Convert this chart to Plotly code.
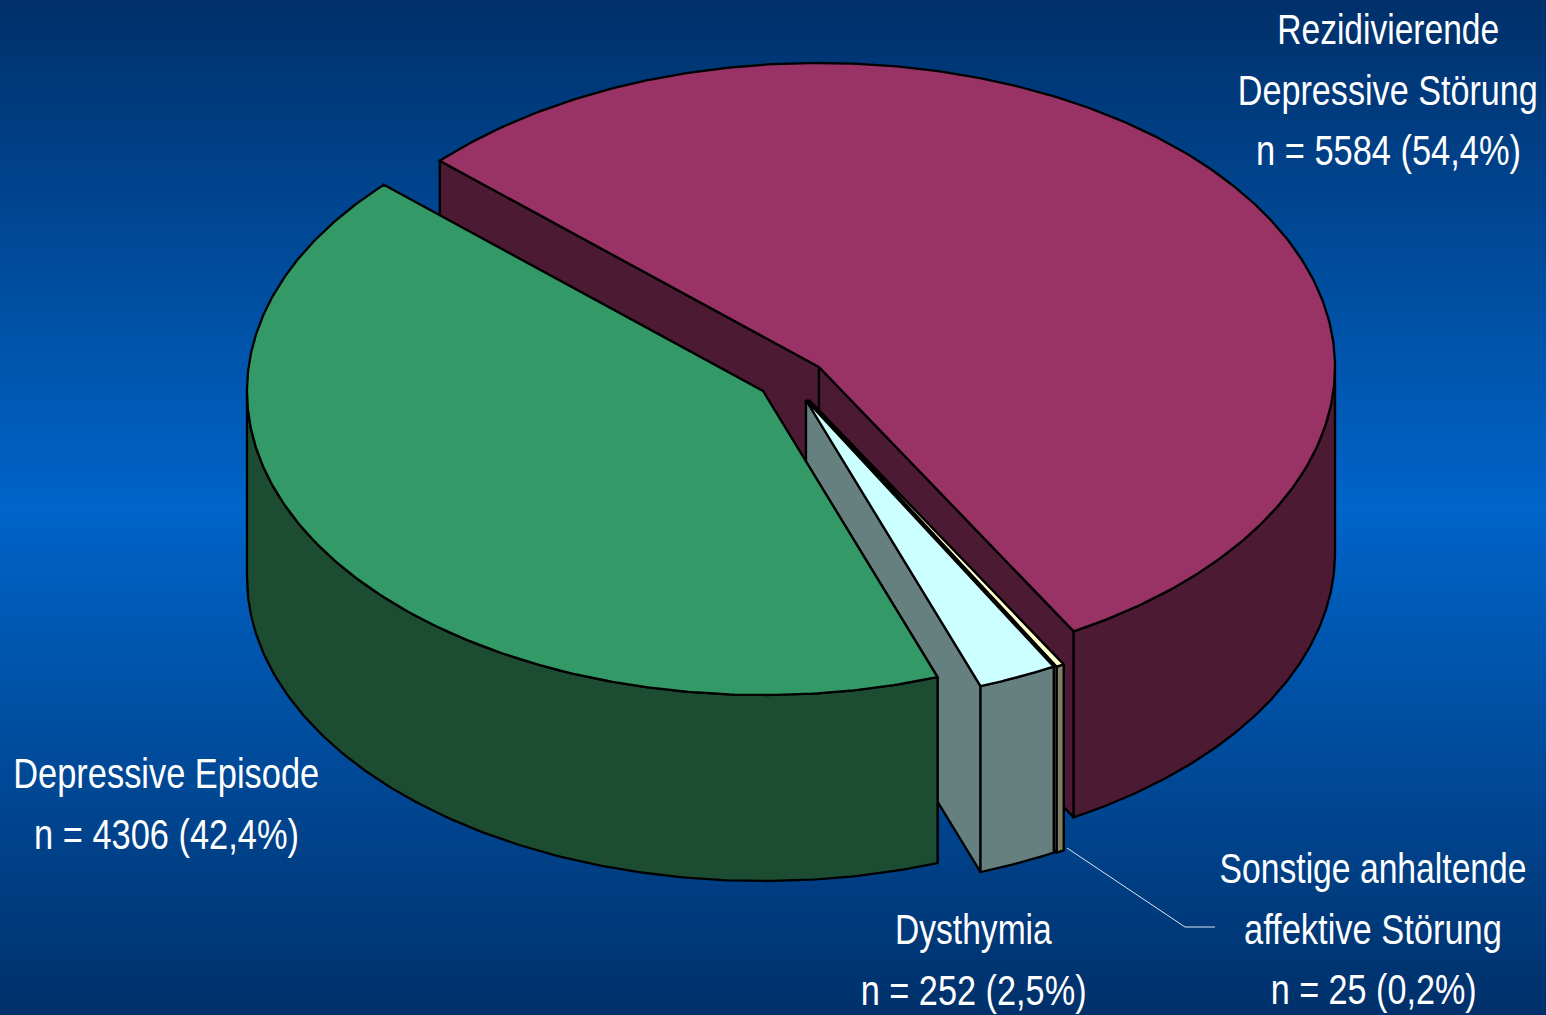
import json
import numpy as np
import plotly.graph_objects as go

# --- data ---
categories = ["Rezidivierende Depressive Störung", "Sonstige anhaltende affektive Störung", "Dysthymia", "Depressive Episode"]
counts = [5584, 25, 252, 4306]
top_colors = ["#993366", "#FFFFCC", "#CCFFFF", "#339966"]
side_colors = ["#4D1A33", "#808066", "#668080", "#1C4D33"]
label_lines = [
    ["Rezidivierende", "Depressive Störung", "n = 5584 (54,4%)"],
    ["Sonstige anhaltende", "affektive Störung", "n = 25 (0,2%)"],
    ["Dysthymia", "n = 252 (2,5%)"],
    ["Depressive Episode", "n = 4306 (42,4%)"],
]
# drawn widths of the condensed label lines, in pixels
label_widths = [
    [222, 300, 265],
    [307, 258, 206],
    [157, 226],
    [306, 265],
]

# --- layout of the projected pie ---
W, H = 1546, 1015
RX, RY, DEPTH = 516, 304, 186
START = 312.7
centers = [(819, 367), (809, 400), (806, 400), (763, 391)]
label_pos = [(1388, 29), (1373, 868), (973, 929), (166, 773)]
LINE_STEP = 60.7
bg_col = ["#00306A", "#0064C8"]
leader_x = [1067, 1185, 1215]
leader_y = [848, 927, 927]

fig = go.Figure()

# background gradient
ys = np.linspace(0, H, 204)
fig.add_trace(go.Heatmap(x=[0, W], y=ys, z=[[abs(v / H - 0.5) * 2] * 2 for v in ys],
                         colorscale=[[0, bg_col[1]], [1, bg_col[0]]], showscale=False,
                         hoverinfo="skip", zsmooth="best"))

def poly(xs, ys, fill):
    fig.add_trace(go.Scatter(x=list(xs) + [xs[0]], y=list(ys) + [ys[0]], mode="lines", fill="toself",
                             fillcolor=fill, line=dict(color="black", width=2.3), hoverinfo="skip"))

def pt(c, deg):
    a = np.radians(deg)
    return c[0] + RX * np.sin(a), c[1] - RY * np.cos(a)

total = sum(counts)
angle = START
for n, c, tc, sc in zip(counts, centers, top_colors, side_colors):
    sweep = 360 * n / total
    a0, a1 = angle, angle + sweep
    angle = a1
    # cut faces
    for a in (a0, a1):
        ex, ey = pt(c, a)
        poly([c[0], ex, ex, c[0]], [c[1], ey, ey + DEPTH, c[1] + DEPTH], sc)
    # outer wall, the part that faces the viewer
    for shift in (0, -360):
        lo, hi = max(a0 + shift, 90), min(a1 + shift, 270)
        if hi > lo:
            t = np.linspace(lo, hi, 160)
            ax, ay = pt(c, t)
            poly(np.r_[ax, ax[::-1]], np.r_[ay, ay[::-1] + DEPTH], sc)
    # top
    t = np.linspace(a0, a1, 300)
    ax, ay = pt(c, t)
    poly(np.r_[c[0], ax], np.r_[c[1], ay], tc)

fig.add_trace(go.Scatter(x=leader_x, y=leader_y, mode="lines", line=dict(color="#DDE6F2", width=1), hoverinfo="skip"))

width_by_text = {}
for lines, widths, (x, y) in zip(label_lines, label_widths, label_pos):
    for i, (s, w) in enumerate(zip(lines, widths)):
        width_by_text[s] = w
        fig.add_annotation(x=x, y=y + i * LINE_STEP, text=s, showarrow=False, xanchor="center", yanchor="middle",
                           font=dict(family="Liberation Sans", size=43, color="white"))

fig.update_layout(width=W, height=H, margin=dict(l=0, r=0, t=0, b=0), showlegend=False,
                  paper_bgcolor=bg_col[0], plot_bgcolor=bg_col[0],
                  xaxis=dict(range=[0, W], visible=False, fixedrange=True),
                  yaxis=dict(range=[H, 0], visible=False, fixedrange=True))

# Squeeze the labels to the condensed look of the reference; they stay real text.
squeeze = """
document.body.style.margin='0';
document.documentElement.style.overflow='hidden';
var widths = %s;
function squeezeLabels() {
  document.querySelectorAll('text.annotation-text').forEach(function (el) {
    var w = widths[el.textContent];
    if (!w || el.dataset.squeezed) return;
    var bb = el.getBBox();
    if (!bb.width) return;
    var cx = bb.x + bb.width / 2, s = w / bb.width;
    var old = el.getAttribute('transform') || '';
    el.setAttribute('transform', old + ' translate(' + cx + ',0) scale(' + s + ',1) translate(' + (-cx) + ',0)');
    el.dataset.squeezed = '1';
  });
}
squeezeLabels();
setTimeout(squeezeLabels, 0);
""" % json.dumps(width_by_text, ensure_ascii=False)
fig.write_html("out.html", config={"displayModeBar": False}, post_script=squeeze)
